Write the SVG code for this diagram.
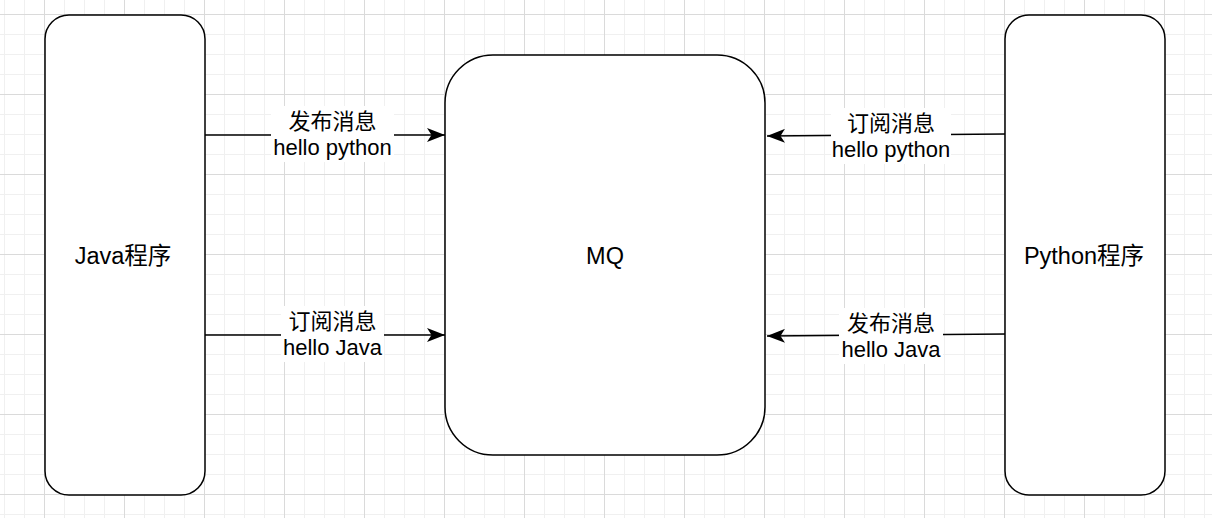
<svg xmlns="http://www.w3.org/2000/svg" width="1212" height="518" viewBox="0 0 1212 518">
  <defs>
    <pattern id="gridMinor" x="4" y="14" width="20" height="20" patternUnits="userSpaceOnUse">
      <path d="M0.5 0V20M0 0.5H20" fill="none" stroke="#f0f0f0" stroke-width="1"/>
    </pattern>
    <pattern id="gridMajor" x="44" y="14" width="80" height="80" patternUnits="userSpaceOnUse">
      <path d="M0.5 0V80M0 0.5H80" fill="none" stroke="#dadada" stroke-width="1"/>
    </pattern>
    <marker id="arrow" markerUnits="userSpaceOnUse" markerWidth="18" markerHeight="14" viewBox="0 0 18 14" refX="18" refY="7" orient="auto">
      <path d="M0,0 L18,7 L0,14 L4.5,7 Z" fill="#000"/>
    </marker>
    <style>
      .node { fill: #ffffff; stroke: #000000; stroke-width: 1.5; }
      .edge { fill: none; stroke: #000000; stroke-width: 1.5; marker-end: url(#arrow); }
      .lbl-bg { fill: #ffffff; }
      text { font-family: "Liberation Sans", "Noto Sans CJK SC", sans-serif; fill: #000000; text-anchor: middle; }
      .node-text { font-size: 23.5px; }
      .edge-text { font-size: 22px; }
    </style>
  </defs>

  <rect width="1212" height="518" fill="#ffffff"/>
  <rect width="1212" height="518" fill="url(#gridMinor)"/>
  <rect width="1212" height="518" fill="url(#gridMajor)"/>

  <g id="node-java">
    <rect class="node" x="45" y="15" width="160" height="480" rx="24" ry="24"/>
    <text class="node-text" x="123" y="263.5">Java程序</text>
  </g>
  <g id="node-mq">
    <rect class="node" x="445" y="55" width="320" height="400" rx="48" ry="48"/>
    <text class="node-text" x="605" y="263.5">MQ</text>
  </g>
  <g id="node-python">
    <rect class="node" x="1005" y="15" width="160" height="480" rx="24" ry="24"/>
    <text class="node-text" x="1084" y="263.5">Python程序</text>
  </g>

  <g id="connectors">
    <g id="edge-java-publish">
      <path class="edge" d="M205,135 L445,135"/>
      <rect class="lbl-bg" x="271" y="106" width="123" height="56"/>
      <text class="edge-text" x="332.5" y="128.5">发布消息</text>
      <text class="edge-text" x="332.5" y="154.5">hello python</text>
    </g>
    <g id="edge-java-subscribe">
      <path class="edge" d="M205,335 L445,335"/>
      <rect class="lbl-bg" x="281" y="306" width="103" height="56"/>
      <text class="edge-text" x="332.5" y="328.5">订阅消息</text>
      <text class="edge-text" x="332.5" y="354.5">hello Java</text>
    </g>
    <g id="edge-python-subscribe">
      <path class="edge" d="M1005,134 L767,136"/>
      <rect class="lbl-bg" x="831" y="108" width="120" height="56"/>
      <text class="edge-text" x="891" y="130.5">订阅消息</text>
      <text class="edge-text" x="891" y="156.5">hello python</text>
    </g>
    <g id="edge-python-publish">
      <path class="edge" d="M1005,334 L767,336"/>
      <rect class="lbl-bg" x="839" y="308" width="104" height="56"/>
      <text class="edge-text" x="891" y="330.5">发布消息</text>
      <text class="edge-text" x="891" y="356.5">hello Java</text>
    </g>
  </g>
</svg>
